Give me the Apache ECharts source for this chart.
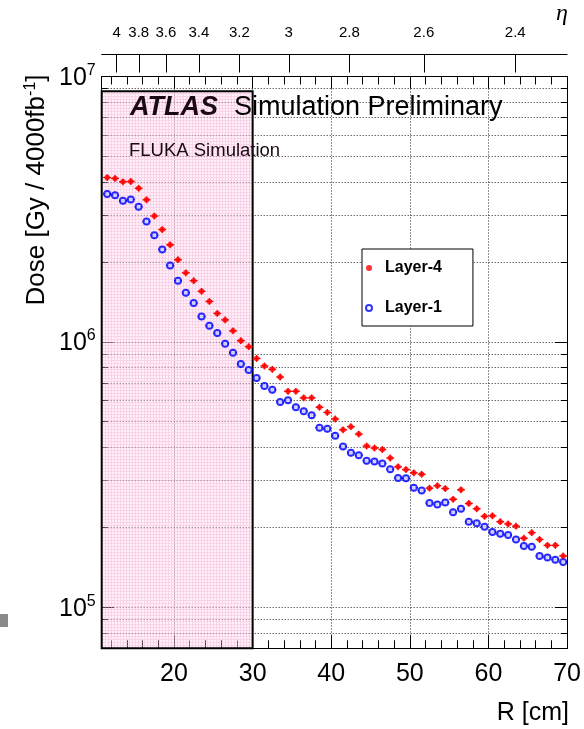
<!DOCTYPE html>
<html><head><meta charset="utf-8">
<script src="https://cdn.jsdelivr.net/npm/echarts@6/dist/echarts.min.js"></script>
<style>html,body{margin:0;padding:0;background:#fff}#c{width:584px;height:729px}</style>
</head><body><div id="c"></div>
<script>
// ---- data ----
const rCenters = [11.5,12.5,13.5,14.5,15.5,16.5,17.5,18.5,19.5,20.5,
  21.5,22.5,23.5,24.5,25.5,26.5,27.5,28.5,29.5,30.5,
  31.5,32.5,33.5,34.5,35.5,36.5,37.5,38.5,39.5,40.5,
  41.5,42.5,43.5,44.5,45.5,46.5,47.5,48.5,49.5,50.5,
  51.5,52.5,53.5,54.5,55.5,56.5,57.5,58.5,59.5,60.5,
  61.5,62.5,63.5,64.5,65.5,66.5,67.5,68.5,69.5];
const layer4 = [4.16e6,4.13e6,4.01e6,4.02e6,3.79e6,3.43e6,2.98e6,2.65e6,2.32e6,2.04e6,
  1.82e6,1.70e6,1.55e6,1.42e6,1.28e6,1.21e6,1.10e6,1.01e6,9.59e5,8.66e5,
  8.11e5,7.88e5,7.37e5,6.51e5,6.51e5,6.15e5,6.15e5,5.67e5,5.42e5,5.12e5,
  4.66e5,4.79e5,4.49e5,4.05e5,3.98e5,3.93e5,3.65e5,3.38e5,3.30e5,3.21e5,
  3.17e5,2.81e5,2.87e5,2.80e5,2.55e5,2.77e5,2.46e5,2.35e5,2.20e5,2.21e5,
  2.10e5,2.06e5,2.02e5,1.82e5,1.91e5,1.80e5,1.71e5,1.71e5,1.56e5];
const layer1 = [3.61e6,3.57e6,3.40e6,3.44e6,3.23e6,2.84e6,2.52e6,2.23e6,1.94e6,1.70e6,
  1.53e6,1.40e6,1.245e6,1.15e6,1.08e6,9.84e5,9.10e5,8.25e5,7.84e5,7.30e5,
  6.82e5,6.60e5,5.93e5,6.02e5,5.67e5,5.48e5,5.29e5,4.75e5,4.70e5,4.43e5,
  4.03e5,3.82e5,3.74e5,3.56e5,3.54e5,3.48e5,3.31e5,3.07e5,3.06e5,2.82e5,
  2.75e5,2.47e5,2.44e5,2.48e5,2.28e5,2.35e5,2.10e5,2.07e5,2.01e5,1.92e5,
  1.89e5,1.87e5,1.80e5,1.70e5,1.69e5,1.56e5,1.54e5,1.51e5,1.48e5];
const xMajorTicks = [20,30,40,50,60,70];
const xMinorTicks = [12,14,16,18,22,24,26,28,32,34,36,38,42,44,46,48,52,54,56,58,62,64,66,68];
const yMajorTicks = [1e5,1e6,1e7];
const yMinorTicks = [7e4,8e4,9e4,2e5,3e5,4e5,5e5,6e5,7e5,8e5,9e5,2e6,3e6,4e6,5e6,6e6,7e6,8e6,9e6];
const etaTicks = [4,3.8,3.6,3.4,3.2,3,2.8,2.6,2.4];
const zPlane = 346.6;           // cm, converts eta to R
const xMin = 10.8, xMax = 70, yMin = 7e4, yMax = 1e7;
const shadedRange = [xMin, 30];  // pink box in R
const shadedTop = 8.8e6;
const relErr = 0.03;

const etaR = etaTicks.map(e => zPlane / Math.sinh(e));
const FONT = 'Liberation Sans, Arial, Helvetica, sans-serif';

// pattern for pink region
const pc = document.createElement('canvas'); pc.width = 3; pc.height = 3;
const g = pc.getContext('2d');
g.fillStyle = 'rgba(252,210,232,0.30)'; g.fillRect(0,0,3,3);
g.fillStyle = 'rgba(246,170,210,0.42)'; g.fillRect(0,0,3,1); g.fillRect(0,1,1,2);

const chart = echarts.init(document.getElementById('c'), null, {renderer:'canvas'});

const axisBase = {type:'value', min:xMin, max:xMax, gridIndex:0,
  axisLine:{show:true, onZero:false, lineStyle:{color:'#000', width:1}},
  splitLine:{show:false}, axisLabel:{show:false}};
function xAx(pos, vals, len, extra) {
  return Object.assign({}, axisBase, {position:pos,
    axisTick:{show:true, inside:true, length:len, customValues:vals, lineStyle:{color:'#000', width:1}}}, extra||{});
}
const yBase = {type:'log', logBase:10, min:yMin, max:yMax, gridIndex:0,
  axisLine:{show:true, onZero:false, lineStyle:{color:'#000', width:1}},
  splitLine:{show:false}, axisLabel:{show:false}};
function yAx(pos, vals, len, extra) {
  return Object.assign({}, yBase, {position:pos,
    axisTick:{show:true, inside:true, length:len, customValues:vals, lineStyle:{color:'#000', width:1}}}, extra||{});
}
const gridLine = {show:true, lineStyle:{color:'#222', width:1, type:[1,2]}};

function errRender(color) {
  return function(params, api) {
    const x = api.value(0), y = api.value(1);
    const pL = api.coord([x - 0.5, y]), pR = api.coord([x + 0.5, y]);
    const pT = api.coord([x, y * (1 + relErr)]), pB = api.coord([x, y / (1 + relErr)]);
    return {type:'group', children:[
      {type:'line', shape:{x1:pL[0], y1:pL[1], x2:pR[0], y2:pR[1]}, style:{stroke:color, lineWidth:1.4}},
      {type:'line', shape:{x1:pT[0], y1:pT[1], x2:pB[0], y2:pB[1]}, style:{stroke:color, lineWidth:1.4}}
    ]};
  };
}
const d4 = rCenters.map((r,i) => [r, layer4[i]]);
const d1 = rCenters.map((r,i) => [r, layer1[i]]);

const option = {
  animation:false,
  grid:{left:101.7, top:76.5, right:15, bottom:80.7, containLabel:false},
  xAxis:[
    xAx('bottom', xMajorTicks, 13, {splitLine:gridLine,
      axisLabel:{show:true, customValues:xMajorTicks, fontSize:25, color:'#000', fontFamily:FONT, margin:13}}),
    xAx('bottom', xMinorTicks, 8),
    xAx('top', xMajorTicks, 12),
    xAx('top', xMinorTicks, 8),
    xAx('top', etaR, 18, {offset:22,
      axisLabel:{show:true, customValues:etaR, fontSize:15, color:'#000', fontFamily:FONT, margin:14,
        formatter: v => String(Math.round(Math.asinh(zPlane / v) * 10) / 10)}})
  ],
  yAxis:[
    yAx('left', yMajorTicks, 12, {splitLine:gridLine,
      axisLabel:{show:true, customValues:yMajorTicks, margin:6, color:'#000', fontFamily:FONT,
        formatter: v => '{b|10}{s|' + Math.round(Math.log10(v)) + '}',
        rich:{b:{fontSize:25, fontFamily:FONT, color:'#000', verticalAlign:'bottom', padding:[0,0,0,0]},
              s:{fontSize:16, fontFamily:FONT, color:'#000', verticalAlign:'bottom', padding:[0,0,12,0]}}}}),
    yAx('left', yMinorTicks, 6, {splitLine:gridLine}),
    yAx('right', yMajorTicks, 12),
    yAx('right', yMinorTicks, 6)
  ],
  legend:{orient:'vertical', left:362, top:249, padding:[11,31,10,3], itemGap:24,
    itemWidth:22, itemHeight:6, backgroundColor:'#fff', borderColor:'#000', borderWidth:1,
    textStyle:{fontSize:16, fontWeight:'bold', color:'#000', fontFamily:FONT},
    data:['Layer-4','Layer-1']},
  series:[
    {type:'scatter', name:'shade', xAxisIndex:0, yAxisIndex:0, data:[], z:1, silent:true,
      markArea:{silent:true, itemStyle:{color:{image:pc, repeat:'repeat'}, borderColor:'#000', borderWidth:2},
        data:[[{xAxis:shadedRange[0], yAxis:shadedTop},{xAxis:shadedRange[1], yAxis:yMin}]]}},
    {type:'custom', name:'err4', xAxisIndex:0, yAxisIndex:0, data:d4, renderItem:errRender('#ff0000'), z:3, silent:true},
    {type:'custom', name:'err1', xAxisIndex:0, yAxisIndex:0, data:d1, renderItem:errRender('#0000ff'), z:3, silent:true},
    {type:'scatter', name:'Layer-4', xAxisIndex:0, yAxisIndex:0, data:d4, symbol:'circle', symbolSize:5.5,
      itemStyle:{color:'#ff0000'}, z:5},
    {type:'scatter', name:'Layer-1', xAxisIndex:0, yAxisIndex:0, data:d1, symbol:'emptyCircle', symbolSize:6,
      itemStyle:{color:'#0000ff', borderWidth:1.1}, z:4}
  ],
  graphic:[
    {type:'text', x:130, y:108, z:10, style:{text:'ATLAS', font:'italic bold 27px ' + FONT, fill:'#1a0a14', align:'left', verticalAlign:'middle'}},
    {type:'text', x:234, y:108, z:10, style:{text:'Simulation Preliminary', font:'27px ' + FONT, fill:'#000', align:'left', verticalAlign:'middle'}},
    {type:'text', x:129, y:151, z:10, style:{text:'FLUKA Simulation', font:'18.5px ' + FONT, fill:'#1a0a14', align:'left', verticalAlign:'middle'}},
    {type:'text', x:569, y:713, style:{text:'R [cm]', font:'25px ' + FONT, fill:'#000', align:'right', verticalAlign:'middle'}},
    {type:'text', x:562, y:14, style:{text:'\u03b7', font:'italic 24px Liberation Serif, DejaVu Serif, serif', fill:'#000', align:'center', verticalAlign:'middle'}},
    {type:'text', x:36, y:190, rotation:Math.PI/2, style:{text:'{a|Dose [Gy / 4000fb}{s|-1}{a|]}', align:'center', verticalAlign:'middle',
      rich:{a:{font:'26px ' + FONT, fill:'#000', verticalAlign:'bottom'}, s:{font:'16px ' + FONT, fill:'#000', verticalAlign:'bottom', padding:[0,0,11,0]}}}},
    {type:'rect', shape:{x:0, y:614, width:8, height:13}, style:{fill:'#8a8a8a'}}
  ]
};
chart.setOption(option);
</script></body></html>
